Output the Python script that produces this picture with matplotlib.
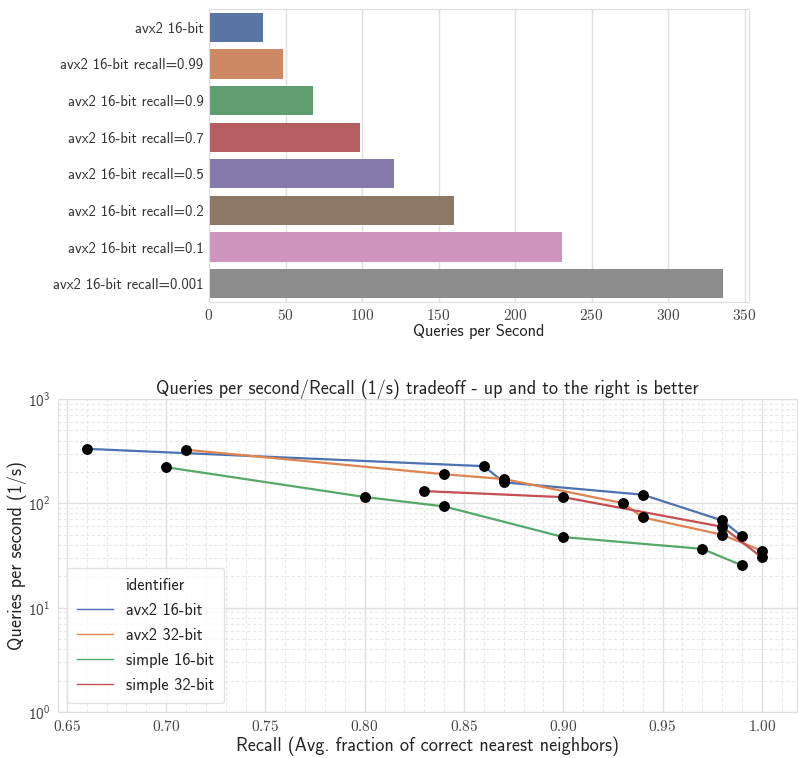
import matplotlib

matplotlib.use("Agg")
import matplotlib.pyplot as plt
from matplotlib.lines import Line2D
from matplotlib.ticker import FuncFormatter, MultipleLocator, LogLocator

plt.rcParams["font.family"] = ["cmss10", "DejaVu Sans"]
plt.rcParams["mathtext.fontset"] = "cm"
plt.rcParams["axes.unicode_minus"] = False

# --- bar chart data ---
bar_labels = [
    "avx2 16-bit",
    "avx2 16-bit recall=0.99",
    "avx2 16-bit recall=0.9",
    "avx2 16-bit recall=0.7",
    "avx2 16-bit recall=0.5",
    "avx2 16-bit recall=0.2",
    "avx2 16-bit recall=0.1",
    "avx2 16-bit recall=0.001",
]
bar_qps = [35.5, 48.6, 68.0, 98.8, 121.2, 159.9, 230.5, 336.1]
bar_colors = ["#5975a4", "#cc8963", "#5f9e6e", "#b55d60",
              "#857aab", "#8d7866", "#d095bf", "#8c8c8c"]

# --- tradeoff data ---
series_names = ["avx2 16-bit", "avx2 32-bit", "simple 16-bit", "simple 32-bit"]
avx2_16_recall = [0.66, 0.86, 0.87, 0.94, 0.98, 0.99]
avx2_16_qps = [333, 227, 159, 121, 68.6, 48.2]
avx2_32_recall = [0.71, 0.84, 0.87, 0.93, 0.94, 0.98, 1.00]
avx2_32_qps = [326, 190, 171, 100.5, 73.3, 50.0, 35.1]
simple_16_recall = [0.70, 0.80, 0.84, 0.90, 0.97, 0.99]
simple_16_qps = [222, 115, 93.4, 47.5, 36.6, 25.4]
simple_32_recall = [0.83, 0.90, 0.98, 1.00]
simple_32_qps = [131, 114.6, 59.6, 30.3]
line_colors = ["#4c72b0", "#dd8452", "#55a868", "#c44e52"]

W, H = 799, 758
fig = plt.figure(figsize=(W / 100, H / 100), dpi=100)


def px_axes(left, top, right, bottom):
    return fig.add_axes([left / W, 1 - bottom / H, (right - left) / W, (bottom - top) / H])


spine_c = "#dddddd"
grid_c = "#e0e0e0"
text_c = "#222222"
tick_c = "#444444"

# ---------------- top: bar chart ----------------
ax1 = px_axes(209, 9, 749, 302)
ypos = range(len(bar_labels))
ax1.barh(ypos, bar_qps, height=0.8, color=bar_colors, zorder=2)
ax1.set_ylim(len(bar_labels) - 0.5, -0.5)
ax1.set_xlim(0, max(bar_qps) * 1.05)
ax1.set_yticks(list(ypos))
ax1.set_yticklabels(bar_labels, fontsize=10.6)
ax1.xaxis.set_major_locator(MultipleLocator(50))
ax1.xaxis.set_major_formatter(FuncFormatter(lambda v, p: f"${v:g}$"))
ax1.tick_params(axis="x", labelsize=11, length=0, pad=4, colors=tick_c)
ax1.tick_params(axis="y", length=0, pad=4, colors="#333333")
ax1.grid(axis="x", color=grid_c, lw=1, zorder=0)
ax1.set_axisbelow(True)
for s in ax1.spines.values():
    s.set_color(spine_c)
ax1.set_xlabel("Queries per Second", fontsize=11.8, labelpad=1, color=text_c)

# ---------------- bottom: tradeoff ----------------
ax2 = px_axes(58, 399, 797, 712)
recalls = [avx2_16_recall, avx2_32_recall, simple_16_recall, simple_32_recall]
qpss = [avx2_16_qps, avx2_32_qps, simple_16_qps, simple_32_qps]
for rec, q, c in zip(recalls, qpss, line_colors):
    ax2.plot(rec, q, color=c, lw=1.6, zorder=3)
for rec, q in zip(recalls, qpss):
    ax2.plot(rec, q, "o", color="black", ms=6.8, lw=0, zorder=4)

ax2.set_yscale("log")
ax2.set_ylim(1, 1000)
ax2.set_xlim(0.6455, 1.0177)
ax2.xaxis.set_major_locator(MultipleLocator(0.05))
ax2.xaxis.set_minor_locator(MultipleLocator(0.01))
ax2.xaxis.set_major_formatter(FuncFormatter(lambda v, p: f"${v:.2f}$"))
ax2.yaxis.set_major_locator(LogLocator(base=10, numticks=10))
ax2.yaxis.set_minor_locator(LogLocator(base=10, subs=range(2, 10), numticks=20))
ax2.tick_params(which="both", length=0, colors=tick_c)
ax2.tick_params(axis="both", labelsize=11)
ax2.tick_params(axis="x", pad=5)
ax2.tick_params(axis="y", pad=5)
ax2.grid(which="major", color=grid_c, lw=1, zorder=0)
ax2.grid(which="minor", color="#e8e8e8", lw=0.8, ls=(0, (3, 2)), zorder=0)
for s in ax2.spines.values():
    s.set_color(spine_c)
ax2.set_xlabel("Recall (Avg. fraction of correct nearest neighbors)", fontsize=13.1,
               color=text_c, labelpad=2)
ax2.set_ylabel("Queries per second (1/s)", fontsize=13.1, color=text_c, labelpad=1)
ax2.set_title("Queries per second/Recall (1/s) tradeoff - up and to the right is better",
              fontsize=13.1, color=text_c, pad=2)

handles = [Line2D([], [], color="none", label="identifier")]
handles += [Line2D([], [], color=c, lw=1, label=n) for c, n in zip(line_colors, series_names)]
leg = ax2.legend(handles=handles, loc="lower left", borderaxespad=0.55,
                 fontsize=11.8, frameon=True, handlelength=2.2, borderpad=0.6,
                 labelspacing=0.62, handletextpad=0.8)
leg.get_frame().set_edgecolor("#dddddd")
for t in leg.get_texts():
    t.set_color(text_c)

fig.savefig("out.png", dpi=100)
